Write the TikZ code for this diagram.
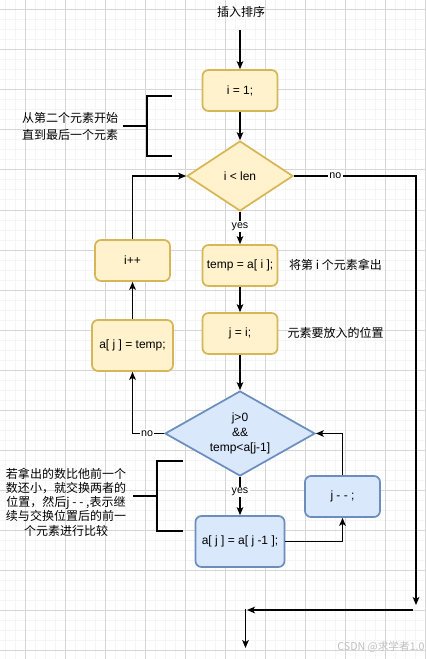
\documentclass[tikz,border=0pt]{standalone}
\usepackage{fontspec}
\setmainfont{Liberation Sans}
\newfontfamily\cjk{Noto Sans CJK SC}
\usetikzlibrary{shapes.geometric,arrows.meta,positioning}

\definecolor{yfill}{HTML}{FFF2CC}
\definecolor{yline}{HTML}{D6B656}
\definecolor{bfill}{HTML}{DAE8FC}
\definecolor{bline}{HTML}{6C8EBF}

\begin{document}
\begin{tikzpicture}[x=0.75pt, y=-0.75pt,
    font=\fontsize{9}{11}\selectfont,
    ybox/.style={rectangle, rounded corners=4.5pt, draw=yline, fill=yfill, line width=1.3pt,
                 minimum width=56.25pt, minimum height=30.75pt, align=center, inner sep=0pt},
    bbox/.style={ybox, draw=bline, fill=bfill},
    ydia/.style={diamond, aspect=1.5, draw=yline, fill=yfill, line width=1.3pt,
                 minimum width=79.5pt, minimum height=52.5pt, align=center, inner sep=0pt},
    bdia/.style={ydia, aspect=1.76, draw=bline, fill=bfill,
                 minimum width=112.5pt, minimum height=63.75pt},
    arr/.style={line width=1pt, -{Stealth[length=6pt, width=5pt, inset=1.5pt]}},
    lbl/.style={fill=white, inner sep=1pt, font=\fontsize{8}{9}\selectfont},
    note/.style={font=\cjk\fontsize{9}{12.75}\selectfont, align=center},
    brace/.style={line width=1.5pt},
    mingrid/.style={line width=0.75pt, black!4},
    majgrid/.style={line width=0.75pt, black!16},
]
% Background and grid
\fill[white] (0,0) rectangle (425,659);
\useasboundingbox (0,0) rectangle (425,659);
\foreach \gx in {5,15,...,425} \draw[mingrid] (\gx,0) -- (\gx,659);
\foreach \gy in {0,10,...,650} \draw[mingrid] (0,\gy) -- (425,\gy);
\foreach \gx in {25,65,...,425} \draw[majgrid] (\gx,0) -- (\gx,659);
\foreach \gy in {10,50,...,650} \draw[majgrid] (0,\gy) -- (425,\gy);

% Title
\node[note] (title) at (241,12) {插入排序};
\coordinate (start) at (240,30);

% Outer loop (yellow)
\node[ybox] (init) at (240,90.5) {i = 1;};
\node[ydia] (cond) at (240,176) {i < len};
\node[ybox] (take) at (240,265.5) {temp = a[ i ];};
\node[ybox] (place) at (240,333.5) {j = i;};
\node[ybox, minimum width=60.75pt, minimum height=38.25pt] (store) at (132.5,345.5) {a[ j ] = temp;};
\node[ybox] (inc) at (132.5,260.5) {i++};

% Inner loop (blue)
\node[bdia] (test) at (240,433.5) {j>0\\\&\&\\temp<a[j-1]};
\node[bbox, minimum width=66.75pt, minimum height=38.25pt] (shift) at (240,541.5) {a[ j ] = a[ j -1 ];};
\node[bbox] (dec) at (342.5,496.5) {j - - ;};

% Notes
\node[note] (nstart) at (70,126) {从第二个元素开始\\直到最后一个元素};
\node[note] (ntake) at (335.5,265) {将第 i 个元素拿出};
\node[note] (nplace) at (335.5,333) {元素要放入的位置};
\node[note, font=\cjk\fontsize{9}{10.7}\selectfont] (nshift) at (66,502)
    {若拿出的数比他前一个\\数还小，就交换两者的\\位置，然后j - - ,表示继\\续与交换位置后的前一\\个元素进行比较};

% Brackets
\draw[brace] (172,96) -- (147,96) -- (147,156) -- (172,156);
\draw[brace] (123,126) -- (147,126);
\draw[brace] (183,461) -- (157,461) -- (157,531) -- (183,531);
\draw[brace] (133,496) -- (157,496);

% Connectors
\draw[arr] (start) -- (init);
\draw[arr] (init) -- (cond);
\draw[arr] (cond) -- node[lbl, pos=0.45] {yes} (take);
\draw[arr] (take) -- (place);
\draw[arr] (place) -- (test);
\draw[arr] (test) -- node[lbl, pos=0.4] {yes} (shift);
\draw[arr] (shift) -| (dec);
\draw[arr] (dec) |- (test);
\draw[arr] (test) -| node[lbl, pos=0.27] {no} (store);
\draw[arr] (store) -- (inc);
\draw[arr] (inc) |- (cond);

% Exit path
\coordinate (outR) at (416,605);
\coordinate (joinR) at (413,610);
\coordinate (joinL) at (247,610);
\coordinate (downT) at (245.5,609);
\coordinate (downB) at (245.5,648);
\draw[arr] (cond) -| node[lbl, pos=0.17] {no} (outR);
\draw[arr] (joinR) -- (joinL);
\draw[arr] (downT) -- (downB);

% Watermark
\node[font=\cjk\fontsize{8}{8}\selectfont, text=black!25] (mark) at (381,647) {CSDN @求学者1.0};
\end{tikzpicture}
\end{document}
